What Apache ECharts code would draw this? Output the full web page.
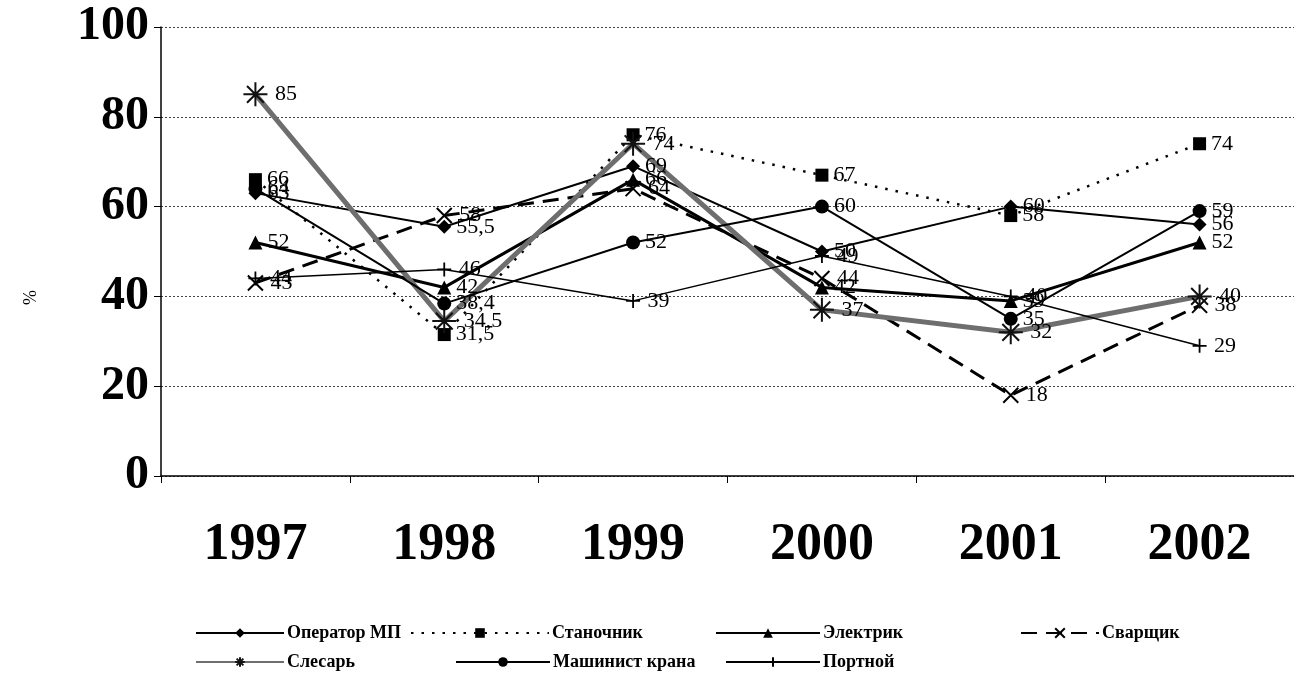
<!DOCTYPE html>
<html>
<head>
<meta charset="utf-8">
<script src="https://cdn.jsdelivr.net/npm/echarts@6/dist/echarts.min.js"></script>
<style>html,body{margin:0;padding:0;background:#fff}#c{width:1294px;height:679px}</style>
</head>
<body>
<div id="c"></div>
<script>
const years = ['1997', '1998', '1999', '2000', '2001', '2002'];
const yTicks = [0, 20, 40, 60, 80, 100];
const names = ['Оператор МП', 'Станочник', 'Электрик', 'Сварщик', 'Слесарь', 'Машинист крана', 'Портной'];
const operatorMP = [63, 55.5, 69, 50, 60, 56];
const stanochnik = [66, 31.5, 76, 67, 58, 74];
const elektrik = [52, 42, 66, 42, 39, 52];
const svarshchik = [43, 58, 64, 44, 18, 38];
const slesar = [85, 34.5, 74, 37, 32, 40];
const mashinist = [64, 38.4, 52, 60, 35, 59];
const portnoy = [44, 46, 39, 49, 40, 29];
const yAxisName = '%';

const FONT = 'Liberation Serif';
const lbl = {
  show: true, position: 'right', distance: 5,
  fontFamily: FONT, fontSize: 22, color: '#000',
  formatter: p => String(p.value).replace('.', ',')
};
const crossPath = 'path://M0,0L10,10M10,0L0,10';
const plusPath = 'path://M5,0L5,10M0,5L10,5';
const starPath = 'path://M5,0L5,10M0,5L10,5M1.5,1.5L8.5,8.5M8.5,1.5L1.5,8.5';

function mk(name, data, opts) {
  return Object.assign({
    name, type: 'line', data, label: lbl, z: 3,
    animation: false
  }, opts);
}

const series = [
  mk(names[0], operatorMP, {
    symbol: 'diamond', symbolSize: 14,
    lineStyle: { color: '#000', width: 2, type: 'solid' },
    itemStyle: { color: '#000' }
  }),
  mk(names[1], stanochnik, {
    symbol: 'rect', symbolSize: 13,
    lineStyle: { color: '#000', width: 2.5, type: [2.5, 8] },
    itemStyle: { color: '#000' }
  }),
  mk(names[2], elektrik, {
    symbol: 'triangle', symbolSize: 14,
    lineStyle: { color: '#000', width: 3, type: 'solid' },
    itemStyle: { color: '#000' }
  }),
  mk(names[3], svarshchik, {
    symbol: crossPath, symbolSize: 15,
    lineStyle: { color: '#000', width: 3, type: [16, 9] },
    itemStyle: { color: 'none', borderColor: '#000', borderWidth: 2 }
  }),
  mk(names[4], slesar, {
    symbol: starPath, symbolSize: 24,
    lineStyle: { color: '#6e6e6e', width: 5, type: 'solid' },
    itemStyle: { color: 'none', borderColor: '#111', borderWidth: 2 }
  }),
  mk(names[5], mashinist, {
    symbol: 'circle', symbolSize: 14,
    lineStyle: { color: '#000', width: 2, type: 'solid' },
    itemStyle: { color: '#000' }
  }),
  mk(names[6], portnoy, {
    symbol: plusPath, symbolSize: 14,
    lineStyle: { color: '#000', width: 1.5, type: 'solid' },
    itemStyle: { color: 'none', borderColor: '#000', borderWidth: 1.8 }
  })
];

const legendPos = [[195, 624, 88], [410, 624, 138], [715, 624, 104], [1020, 624, 78], [195, 653, 88], [455, 653, 94], [725, 653, 94]];
const legends = names.map((n, i) => ({
  data: [n], left: legendPos[i][0], top: legendPos[i][1], padding: 0,
  itemWidth: legendPos[i][2], itemHeight: 12, itemGap: 0,
  textStyle: { fontFamily: FONT, fontSize: 18, fontWeight: 'bold', color: '#000', padding: [0, 0, 0, -2] },
  selectedMode: false
}));

const chart = echarts.init(document.getElementById('c'), null, { renderer: 'canvas' });
chart.setOption({
  backgroundColor: '#fff',
  animation: false,
  grid: { left: 161, top: 27, width: 1135, height: 449, containLabel: false },
  legend: legends,
  graphic: [{
    type: 'text', left: 22, top: 290, rotation: Math.PI / 2,
    style: { text: yAxisName, fontFamily: FONT, fontSize: 18, fill: '#000' }
  }],
  xAxis: {
    type: 'category', data: years, boundaryGap: true,
    axisLine: { show: true, lineStyle: { color: '#000', width: 1.5 } },
    axisTick: { show: true, length: 7, lineStyle: { color: '#000' } },
    axisLabel: { fontFamily: FONT, fontSize: 52, fontWeight: 'bold', color: '#000', margin: 44 },
    splitLine: { show: false }
  },
  yAxis: {
    type: 'value', min: yTicks[0], max: yTicks[yTicks.length - 1], interval: 20,
    axisLine: { show: true, lineStyle: { color: '#000', width: 1.5 } },
    axisTick: { show: true, length: 7, lineStyle: { color: '#000' } },
    axisLabel: { fontFamily: FONT, fontSize: 48, fontWeight: 'bold', color: '#000', margin: 12 },
    splitLine: { show: true, lineStyle: { color: '#444', width: 1, type: [2, 2] } }
  },
  series
});
</script>
</body>
</html>
